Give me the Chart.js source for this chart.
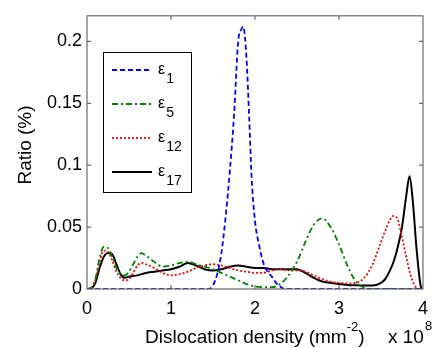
<!DOCTYPE html>
<html>
<head>
<meta charset="utf-8">
<script src="https://cdn.jsdelivr.net/npm/chart.js@4.4.1/dist/chart.umd.min.js"></script>
<style>
  html, body { margin: 0; padding: 0; background: #fff; }
  #wrap { width: 437px; height: 348px; }
</style>
</head>
<body>
<div id="wrap"><canvas id="chart" width="437" height="348"></canvas></div>
<script>
// tick values and labels
const xTicks = [0, 1, 2, 3, 4];
const yTicks = [0, 0.05, 0.1, 0.15, 0.2];
const yTickLabels = ["0", "0.05", "0.1", "0.15", "0.2"];

// eps_1
const e1X = [0, 1.45, 1.5, 1.55, 1.6, 1.65, 1.7, 1.75, 1.8, 1.84, 1.86, 1.9, 1.93, 1.96, 2.0, 2.05, 2.1, 2.15, 2.2, 2.25, 2.3, 2.35, 4];
const e1Y = [0, 0, 0.003, 0.012, 0.029, 0.058, 0.095, 0.14, 0.2, 0.21, 0.212, 0.185, 0.14, 0.09, 0.055, 0.035, 0.021, 0.014, 0.01, 0.005, 0.002, 0, 0];

// eps_5
const e5X = [0, 0.05, 0.1, 0.15, 0.2, 0.25, 0.3, 0.35, 0.4, 0.45, 0.5, 0.55, 0.6, 0.65, 0.7, 0.8, 0.9, 1.0, 1.1, 1.2, 1.3, 1.4, 1.5, 1.6, 1.7, 1.8, 1.9, 2.0, 2.1, 2.2, 2.3, 2.4, 2.5, 2.6, 2.7, 2.8, 2.9, 3.0, 3.1, 3.2, 3.3, 3.4, 4];
const e5Y = [0, 0.001, 0.008, 0.025, 0.034, 0.033, 0.026, 0.017, 0.012, 0.011, 0.014, 0.02, 0.026, 0.029, 0.027, 0.022, 0.018, 0.019, 0.021, 0.022, 0.02, 0.018, 0.016, 0.013, 0.01, 0.007, 0.004, 0.002, 0.0015, 0.0015, 0.004, 0.011, 0.022, 0.038, 0.052, 0.057, 0.05, 0.036, 0.019, 0.006, 0.001, 0, 0];

// eps_12
const e12X = [0, 0.05, 0.1, 0.15, 0.2, 0.25, 0.3, 0.35, 0.4, 0.45, 0.5, 0.55, 0.6, 0.65, 0.7, 0.8, 0.9, 1.0, 1.1, 1.2, 1.3, 1.4, 1.5, 1.6, 1.7, 1.8, 1.9, 2.0, 2.1, 2.2, 2.3, 2.4, 2.5, 2.6, 2.7, 2.8, 2.9, 3.0, 3.1, 3.2, 3.3, 3.4, 3.5, 3.55, 3.6, 3.65, 3.7, 3.75, 3.8, 3.85, 3.9, 3.95, 4];
const e12Y = [0, 0.001, 0.007, 0.022, 0.031, 0.03, 0.023, 0.014, 0.009, 0.007, 0.008, 0.013, 0.019, 0.021, 0.02, 0.017, 0.013, 0.011, 0.012, 0.014, 0.017, 0.019, 0.02, 0.019, 0.017, 0.015, 0.014, 0.013, 0.013, 0.015, 0.016, 0.015, 0.015, 0.014, 0.011, 0.008, 0.006, 0.005, 0.0045, 0.005, 0.009, 0.02, 0.038, 0.047, 0.055, 0.059, 0.056, 0.042, 0.026, 0.012, 0.003, 0, 0];

// eps_17
const e17X = [0, 0.05, 0.1, 0.15, 0.2, 0.25, 0.3, 0.35, 0.4, 0.45, 0.5, 0.6, 0.7, 0.8, 0.9, 1.0, 1.1, 1.2, 1.3, 1.4, 1.5, 1.6, 1.7, 1.8, 1.9, 2.0, 2.1, 2.2, 2.3, 2.4, 2.5, 2.6, 2.7, 2.8, 2.9, 3.0, 3.1, 3.2, 3.3, 3.4, 3.5, 3.55, 3.6, 3.65, 3.7, 3.75, 3.8, 3.84, 3.88, 3.92, 3.96, 3.98];
const e17Y = [0, 0.0005, 0.005, 0.017, 0.026, 0.029, 0.028, 0.02, 0.012, 0.009, 0.01, 0.011, 0.013, 0.014, 0.015, 0.016, 0.018, 0.021, 0.019, 0.016, 0.015, 0.016, 0.018, 0.019, 0.018, 0.017, 0.017, 0.016, 0.016, 0.016, 0.016, 0.013, 0.009, 0.006, 0.005, 0.004, 0.0033, 0.003, 0.0028, 0.0028, 0.005, 0.008, 0.014, 0.022, 0.034, 0.05, 0.075, 0.091, 0.07, 0.035, 0.008, 0];

const seriesNames = ["1", "5", "12", "17"];

const FONT = "'Liberation Sans', Arial, sans-serif";
Chart.defaults.font.family = FONT;
Chart.defaults.font.size = 18;
Chart.defaults.color = "#000";

function pts(xs, ys) {
  return xs.map((x, i) => ({ x: x, y: ys[i] }));
}

const styles = [
  { color: "#0000ff", dash: [5, 3], width: 1.8 },
  { color: "#008000", dash: [6, 3, 2, 3], width: 1.8 },
  { color: "#ff0000", dash: [2, 2], width: 1.8 },
  { color: "#000000", dash: [], width: 2 }
];

const datasets = [pts(e1X, e1Y), pts(e5X, e5Y), pts(e12X, e12Y), pts(e17X, e17Y)].map((d, i) => ({
  label: "ε" + seriesNames[i],
  data: d,
  borderColor: styles[i].color,
  borderDash: styles[i].dash,
  borderWidth: styles[i].width,
  pointRadius: 0,
  fill: false,
  cubicInterpolationMode: "monotone"
}));

// box, inside ticks, axis titles
const framePlugin = {
  id: "frame",
  afterDraw(chart) {
    const ctx = chart.ctx;
    const a = chart.chartArea;
    const xs = chart.scales.x, ys = chart.scales.y;
    ctx.save();
    ctx.strokeStyle = "#6a6a6a";
    ctx.lineWidth = 1.2;
    ctx.strokeRect(a.left, a.top, a.right - a.left, a.bottom - a.top);
    ctx.beginPath();
    xTicks.slice(1, -1).forEach(v => {
      const px = xs.getPixelForValue(v);
      ctx.moveTo(px, a.bottom); ctx.lineTo(px, a.bottom - 4);
      ctx.moveTo(px, a.top); ctx.lineTo(px, a.top + 4);
    });
    yTicks.slice(1).forEach(v => {
      const py = ys.getPixelForValue(v);
      ctx.moveTo(a.left, py); ctx.lineTo(a.left + 4, py);
      ctx.moveTo(a.right, py); ctx.lineTo(a.right - 4, py);
    });
    ctx.stroke();

    ctx.fillStyle = "#000";
    ctx.textBaseline = "alphabetic";
    ctx.textAlign = "left";
    // x title
    let x = 145;
    const base = 343;
    ctx.font = "19px " + FONT;
    ctx.fillText("Dislocation density (mm", x, base);
    x += ctx.measureText("Dislocation density (mm").width;
    ctx.font = "13px " + FONT;
    ctx.fillText("-2", x, base - 12);
    x += ctx.measureText("-2").width;
    ctx.font = "19px " + FONT;
    ctx.fillText(")", x, base);
    ctx.fillText("x 10", 388, base);
    const w = ctx.measureText("x 10").width;
    ctx.font = "13px " + FONT;
    ctx.fillText("8", 388 + w + 1, base - 13);

    // y title
    ctx.translate(31, 145);
    ctx.rotate(-Math.PI / 2);
    ctx.textAlign = "center";
    ctx.font = "19px " + FONT;
    ctx.fillText("Ratio (%)", 0, 0);
    ctx.restore();
  }
};

// legend box inside the plot
const legendPlugin = {
  id: "boxLegend",
  afterDatasetsDraw(chart) {
    const ctx = chart.ctx;
    const bx = 103, by = 52, bw = 88, bh = 140;
    ctx.save();
    ctx.fillStyle = "#fff";
    ctx.fillRect(bx, by, bw, bh);
    ctx.strokeStyle = "#000";
    ctx.lineWidth = 1;
    ctx.strokeRect(bx + 0.5, by + 0.5, bw, bh);
    chart.data.datasets.forEach((ds, i) => {
      const cy = 70 + i * 34;
      ctx.beginPath();
      ctx.setLineDash(ds.borderDash);
      ctx.strokeStyle = ds.borderColor;
      ctx.lineWidth = ds.borderWidth;
      ctx.moveTo(112, cy);
      ctx.lineTo(152, cy);
      ctx.stroke();
      ctx.setLineDash([]);
      ctx.fillStyle = "#000";
      ctx.textAlign = "left";
      ctx.textBaseline = "alphabetic";
      ctx.font = "16px " + FONT;
      ctx.fillText("ε", 158, cy + 4);
      const w = ctx.measureText("ε").width;
      ctx.font = "14px " + FONT;
      ctx.fillText(seriesNames[i], 158 + w + 1, cy + 13);
    });
    ctx.restore();
  }
};

new Chart(document.getElementById("chart"), {
  type: "line",
  data: { datasets },
  options: {
    responsive: false,
    animation: false,
    devicePixelRatio: 1,
    layout: { padding: { top: 5, right: 4, left: 0, bottom: 0 } },
    plugins: { legend: { display: false }, tooltip: { enabled: false } },
    scales: {
      x: {
        type: "linear",
        min: 0,
        max: 4,
        grid: { display: false, drawTicks: false },
        border: { display: false },
        afterBuildTicks: s => { s.ticks = xTicks.map(v => ({ value: v })); },
        afterFit: s => { s.height = 59; },
        ticks: { padding: 9, maxRotation: 0, callback: v => String(v) }
      },
      y: {
        type: "linear",
        min: 0,
        max: 0.2207,
        grid: { display: false, drawTicks: false },
        border: { display: false },
        afterBuildTicks: s => { s.ticks = yTicks.map(v => ({ value: v })); },
        afterFit: s => { s.width = 87; },
        ticks: { padding: 5, callback: (v, i) => yTickLabels[i] }
      }
    }
  },
  plugins: [framePlugin, legendPlugin]
});
</script>
</body>
</html>
